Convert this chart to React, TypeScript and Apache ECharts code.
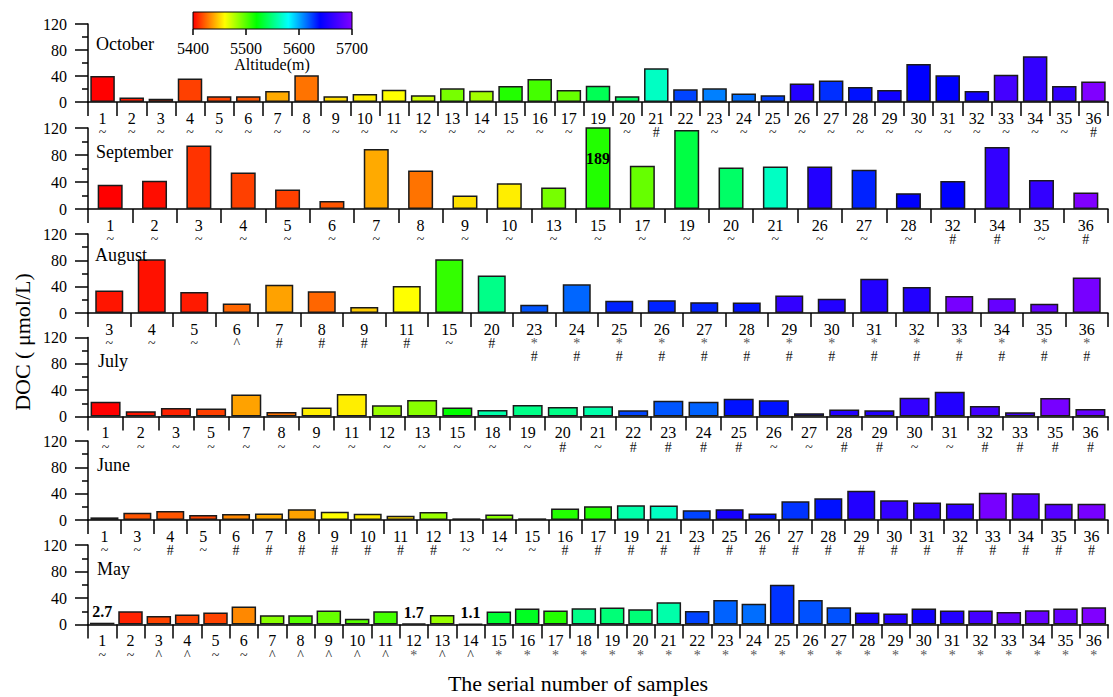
import React, { useEffect, useRef } from 'react';
import * as echarts from 'echarts';

// ---------- DATA ----------
const octSamples = [1, 2, 3, 4, 5, 6, 7, 8, 9, 10, 11, 12, 13, 14, 15, 16, 17, 19, 20, 21, 22, 23, 24, 25, 26, 27, 28, 29, 30, 31, 32, 33, 34, 35, 36];
const octValues = [40, 7, 5, 36, 9, 9, 17, 41, 9, 12.5, 19, 10.5, 21, 17.5, 24.5, 35.5, 18.5, 25, 9, 52, 19.5, 21, 13, 10.5, 28.5, 33, 23, 18.5, 58.5, 41, 17, 42, 70.5, 24.5, 31.5];
const octAltitude = [5400, 5406, 5410, 5415, 5416, 5420, 5440, 5427, 5452, 5456, 5460, 5472, 5492, 5482, 5512, 5504, 5496, 5540, 5544, 5566, 5624, 5610, 5614, 5625, 5656, 5629, 5636, 5647, 5640, 5640, 5648, 5672, 5664, 5664, 5700];
const octMarks = ['~', '~', '~', '~', '~', '~', '~', '~', '~', '~', '~', '~', '~', '~', '~', '~', '~', '~', '~', '#', '~', '~', '~', '~', '~', '~', '~', '~', '~', '~', '~', '~', '~', '~', '#'];

const sepSamples = [1, 2, 3, 4, 5, 6, 7, 8, 9, 10, 13, 15, 17, 19, 20, 21, 26, 27, 28, 32, 34, 35, 36];
const sepValues = [36, 42, 94, 54, 29, 12, 89, 57, 20, 38, 32, 189, 64, 117, 61.5, 63, 63, 58, 23.5, 41.5, 92, 43, 24.5];
const sepAltitude = [5400, 5403, 5412, 5415, 5415, 5420, 5440, 5427, 5453, 5456, 5492, 5512, 5496, 5536, 5544, 5566, 5656, 5632, 5640, 5640, 5664, 5664, 5700];
const sepMarks = ['~', '~', '~', '~', '~', '~', '~', '~', '~', '~', '~', '~', '~', '~', '~', '~', '~', '~', '~', '#', '#', '~', '#'];
const sepLabelled = [15];

const augSamples = [3, 4, 5, 6, 7, 8, 9, 11, 15, 20, 23, 24, 25, 26, 27, 28, 29, 30, 31, 32, 33, 34, 35, 36];
const augValues = [34, 81.5, 32, 14.5, 43, 33, 9, 41, 81.5, 57, 12.5, 43.5, 18.5, 19.5, 16.5, 16, 26.5, 21.5, 52, 39.5, 26, 22.5, 14, 54];
const augAltitude = [5405, 5404, 5406, 5424, 5438, 5424, 5448, 5460, 5508, 5552, 5620, 5616, 5632, 5632, 5632, 5636, 5664, 5656, 5656, 5656, 5696, 5688, 5688, 5696];
const augMarks = ['~', '~', '~', '^', '#', '#', '#', '#', '~', '#', '*\n#', '*\n#', '*\n#', '*\n#', '*\n#', '*\n#', '*\n#', '*\n#', '*\n#', '*\n#', '*\n#', '*\n#', '*\n#', '*\n#'];

const julSamples = [1, 2, 3, 5, 7, 8, 9, 11, 12, 13, 15, 18, 19, 20, 21, 22, 23, 24, 25, 26, 27, 28, 29, 30, 31, 32, 33, 35, 36];
const julValues = [22.5, 8, 13, 12, 33.5, 7, 13.5, 34, 17, 25, 13.5, 10, 17.5, 14.5, 15.5, 9.5, 24, 22.5, 27, 24.5, 5, 10.5, 9.5, 28.5, 37.5, 16, 6.5, 28, 11.5];
const julAltitude = [5400, 5405, 5408, 5415, 5438, 5427, 5456, 5456, 5484, 5488, 5520, 5560, 5552, 5552, 5560, 5624, 5620, 5617, 5636, 5636, 5648, 5656, 5656, 5664, 5656, 5672, 5672, 5696, 5688];
const julMarks = ['~', '~', '~', '~', '~', '~', '~', '~', '~', '~', '~', '~', '~', '#', '~', '#', '#', '#', '#', '~', '~', '#', '#', '~', '~', '#', '#', '#', '#'];

const junSamples = [1, 3, 4, 5, 6, 7, 8, 9, 10, 11, 12, 13, 14, 15, 16, 17, 19, 21, 23, 25, 26, 27, 28, 29, 30, 31, 32, 33, 34, 35, 36];
const junValues = [4, 11, 13.5, 7.5, 9, 10, 16.5, 12.5, 9.5, 6.5, 12, 2.5, 8.5, 2.5, 17.5, 21, 22.5, 22, 15, 16.5, 10, 28.5, 33, 44.5, 30, 26.5, 25, 41.5, 40.5, 24.5, 24.5];
const junAltitude = [5400, 5420, 5420, 5416, 5432, 5440, 5438, 5460, 5456, 5452, 5484, 5470, 5488, 5480, 5512, 5512, 5560, 5566, 5624, 5650, 5636, 5628, 5636, 5656, 5664, 5664, 5664, 5696, 5680, 5680, 5696];
const junMarks = ['~', '~', '#', '~', '#', '#', '#', '#', '#', '#', '#', '~', '~', '~', '#', '#', '#', '#', '#', '#', '#', '#', '#', '#', '#', '#', '#', '#', '#', '#', '#'];

const maySamples = [1, 2, 3, 4, 5, 6, 7, 8, 9, 10, 11, 12, 13, 14, 15, 16, 17, 18, 19, 20, 21, 22, 23, 24, 25, 26, 27, 28, 29, 30, 31, 32, 33, 34, 35, 36];
const mayValues = [2.7, 20, 13, 15, 18, 27, 14, 14, 21, 8.5, 20, 1.7, 14.5, 1.1, 19.5, 24, 21, 24.5, 25.5, 23, 33.5, 20.5, 37, 31.5, 60, 37, 26, 18, 16.5, 24, 21, 21, 19, 21.5, 24, 26];
const mayAltitude = [5400, 5408, 5416, 5416, 5416, 5432, 5488, 5500, 5496, 5500, 5504, 5508, 5484, 5520, 5532, 5528, 5512, 5552, 5548, 5548, 5560, 5624, 5617, 5614, 5628, 5621, 5621, 5648, 5656, 5648, 5656, 5672, 5688, 5688, 5688, 5700];
const mayMarks = ['~', '~', '^', '^', '~', '~', '^', '^', '^', '^', '^', '*', '^', '^', '*', '*', '*', '*', '*', '*', '*', '*', '*', '*', '*', '*', '*', '*', '*', '*', '*', '*', '*', '*', '*', '*'];
const mayLabelled = [1, 12, 14];

const yTicks = { min: 0, max: 120, interval: 40 };
const altitudeRange = [5400, 5700];
const altitudeTicks = [5400, 5500, 5600, 5700];
const rainbow = ['#ff0000', '#ffff00', '#00ff00', '#00ffff', '#0000ff', '#8000ff'];

// ---------- LAYOUT ----------
const FONT = "'Liberation Serif', 'Times New Roman', serif";
const panels = [
  { name: 'October', samples: octSamples, values: octValues, alt: octAltitude, marks: octMarks, labelled: [] as number[], top: 24, height: 78, barWidth: 24.5, titleY: 44, titleLeft: 96 },
  { name: 'September', samples: sepSamples, values: sepValues, alt: sepAltitude, marks: sepMarks, labelled: sepLabelled, top: 128, height: 81, barWidth: 25, titleY: 152, titleLeft: 96 },
  { name: 'August', samples: augSamples, values: augValues, alt: augAltitude, marks: augMarks, labelled: [] as number[], top: 234, height: 79, barWidth: 28, titleY: 255, titleLeft: 95 },
  { name: 'July', samples: julSamples, values: julValues, alt: julAltitude, marks: julMarks, labelled: [] as number[], top: 337.5, height: 79, barWidth: 30, titleY: 361, titleLeft: 98 },
  { name: 'June', samples: junSamples, values: junValues, alt: junAltitude, marks: junMarks, labelled: [] as number[], top: 441, height: 79, barWidth: 28, titleY: 465, titleLeft: 97 },
  { name: 'May', samples: maySamples, values: mayValues, alt: mayAltitude, marks: mayMarks, labelled: mayLabelled, top: 545, height: 79.5, barWidth: 24.5, titleY: 569, titleLeft: 97 },
];

const CB = { x: 193, y: 12, w: 159, h: 17 };

export default function App() {
  const ref = useRef<HTMLDivElement>(null);
  useEffect(() => {
    const chart = echarts.init(ref.current as HTMLDivElement, null, { renderer: 'svg' });
    const axisLineStyle = { color: '#000', width: 1.5 };

    const grid = panels.map((p) => ({ left: 88, width: 1020, top: p.top, height: p.height }));
    const xAxis = panels.map((p, gi) => ({
      type: 'category',
      gridIndex: gi,
      data: p.samples.map(String),
      axisLine: { show: true, lineStyle: axisLineStyle },
      axisTick: { show: true, length: 14, interval: 0, lineStyle: axisLineStyle },
      axisLabel: {
        interval: 0,
        margin: 8,
        formatter: (v: string, i: number) =>
          `{n|${v}}\n` +
          p.marks[i]
            .split('\n')
            .map((m) => (m === '*' ? `{s|${m}}` : `{m|${m}}`))
            .join('\n'),
        rich: {
          n: { fontFamily: FONT, fontSize: 16, lineHeight: 16, color: '#000' },
          m: { fontFamily: FONT, fontSize: 14, lineHeight: 13, color: '#111' },
          s: { fontFamily: FONT, fontSize: 14, lineHeight: 13, color: '#555' },
        },
      },
    }));
    const yAxis = panels.map((p, gi) => ({
      type: 'value',
      gridIndex: gi,
      min: yTicks.min,
      max: yTicks.max,
      interval: yTicks.interval,
      axisLine: { show: true, lineStyle: axisLineStyle },
      axisTick: { show: true, length: 13, lineStyle: axisLineStyle },
      minorTick: { show: true, splitNumber: 2, length: 6, lineStyle: axisLineStyle },
      splitLine: { show: false },
      axisLabel: { fontFamily: FONT, fontSize: 16, color: '#000', margin: 21 },
    }));
    const series = panels.map((p, gi) => ({
      type: 'bar',
      xAxisIndex: gi,
      yAxisIndex: gi,
      barWidth: p.barWidth,
      clip: true,
      itemStyle: { borderColor: '#1a1a1a', borderWidth: 1.5 },
      data: p.samples.map((s, i) => {
        const item: any = { value: [String(s), p.values[i], p.alt[i]] };
        if (p.labelled.includes(s)) {
          const over = p.values[i] > yTicks.max;
          item.label = {
            show: true,
            position: over ? 'insideTop' : 'top',
            distance: over ? 23 : 3,
            formatter: (q: any) => String(q.value[1]),
            fontFamily: FONT,
            fontWeight: 'bold',
            fontSize: 16,
            color: '#000',
          };
        }
        return item;
      }),
    }));

    const title = panels.map((p) => ({
      text: p.name,
      left: p.titleLeft,
      top: p.titleY - 8,
      padding: 0,
      textStyle: { fontFamily: FONT, fontSize: 18, lineHeight: 16, fontWeight: 'normal', color: '#000' },
    }));

    const txt = (text: string, x: number, y: number, size: number, extra: any = {}) => ({
      type: 'text',
      x,
      y,
      ...extra,
      style: {
        text,
        font: `${size}px ${FONT}`,
        fill: '#000',
        textAlign: 'center',
        textVerticalAlign: 'middle',
        align: 'center',
        verticalAlign: 'middle',
      },
    });

    const cbX = (v: number) => CB.x + ((v - altitudeRange[0]) / (altitudeRange[1] - altitudeRange[0])) * CB.w;
    const graphic: any[] = [
      {
        type: 'rect',
        shape: { x: CB.x, y: CB.y, width: CB.w, height: CB.h },
        style: {
          fill: {
            type: 'linear', x: 0, y: 0, x2: 1, y2: 0,
            colorStops: rainbow.map((c, i) => ({ offset: i / (rainbow.length - 1), color: c })),
          },
          stroke: '#000',
          lineWidth: 1,
        },
      },
      ...altitudeTicks.map((v) => ({
        type: 'line',
        shape: { x1: cbX(v), y1: CB.y + CB.h, x2: cbX(v), y2: CB.y + CB.h + 6 },
        style: { stroke: '#000', lineWidth: 1.5 },
      })),
      ...altitudeTicks.map((v) => txt(String(v), cbX(v), 48, 16)),
      txt('Altitude(m)', 272, 64, 16),
      txt('The serial number of samples', 578, 683, 22),
      txt('DOC ( μmol/L)', 22, 342, 22, { rotation: Math.PI / 2 }),
    ];

    chart.setOption({
      animation: false,
      backgroundColor: '#fff',
      title,
      grid,
      xAxis,
      yAxis,
      series,
      visualMap: {
        type: 'continuous',
        show: false,
        min: altitudeRange[0],
        max: altitudeRange[1],
        dimension: 2,
        seriesIndex: panels.map((_, i) => i),
        inRange: { color: rainbow },
      },
      graphic,
    });
    return () => chart.dispose();
  }, []);
  return <div ref={ref} style={{ position: 'fixed', left: 0, top: 0, width: 1113, height: 697 }} />;
}
